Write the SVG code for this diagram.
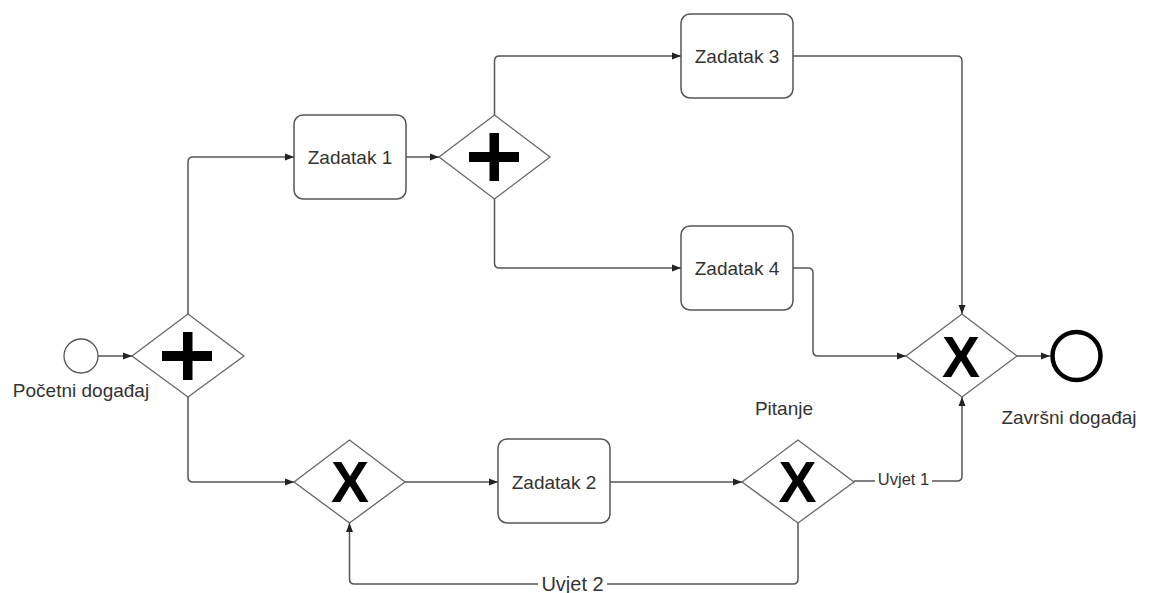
<svg xmlns="http://www.w3.org/2000/svg" width="1149" height="593" viewBox="0 0 1149 593">
<defs>
<style>
text{font-family:"Liberation Sans",Arial,sans-serif;fill:#333}
.task{fill:#fff;stroke:#555;stroke-width:1.5}
.gw{fill:#fff;stroke:#666;stroke-width:1.3}
.bar{fill:#000}
.xg{font-weight:bold;font-size:57px;fill:#000;text-anchor:middle}
.lbl{font-size:19px;text-anchor:middle}
.flow{fill:none;stroke:#555;stroke-width:1.5}
</style>
<marker id="arr" markerWidth="10" markerHeight="8" refX="9" refY="4" orient="auto" markerUnits="userSpaceOnUse">
<path d="M0,0.5 L9,4 L0,7.5 Z" fill="#222"/>
</marker>
</defs>
<rect width="1149" height="593" fill="#fff"/>

<g id="connectors">
<path class="flow" marker-end="url(#arr)" d="M98,356 H132"/>
<path class="flow" marker-end="url(#arr)" d="M188,314 V162 Q188,157 193,157 H294"/>
<path class="flow" marker-end="url(#arr)" d="M406,157 H439"/>
<path class="flow" marker-end="url(#arr)" d="M494.5,115 V61 Q494.5,56 499.5,56 H681"/>
<path class="flow" marker-end="url(#arr)" d="M494.5,199 V263 Q494.5,268 499.5,268 H681"/>
<path class="flow" marker-end="url(#arr)" d="M793,56 H957 Q962,56 962,61 V314"/>
<path class="flow" marker-end="url(#arr)" d="M793,268 H808 Q813,268 813,273 V351 Q813,356 818,356 H906"/>
<path class="flow" marker-end="url(#arr)" d="M1017,356 H1050"/>
<path class="flow" marker-end="url(#arr)" d="M188,397 V477 Q188,482 193,482 H294"/>
<path class="flow" marker-end="url(#arr)" d="M405,482 H498"/>
<path class="flow" marker-end="url(#arr)" d="M610,482 H742"/>
<path class="flow" marker-end="url(#arr)" d="M854,481 H957 Q962,481 962,476 V397"/>
<path class="flow" marker-end="url(#arr)" d="M798,523 V579 Q798,584 793,584 H354.5 Q349.5,584 349.5,579 V523"/>
<rect x="875" y="470" width="57" height="20" fill="#fff"/>
<text x="903.5" y="485" font-size="16.5" text-anchor="middle">Uvjet 1</text>
<rect x="538" y="574" width="69" height="19" fill="#fff"/>
<text x="572.5" y="591" font-size="20" text-anchor="middle">Uvjet 2</text>
</g>

<g id="start">
<circle cx="81" cy="356" r="17" fill="#fff" stroke="#555" stroke-width="1.3"/>
<text class="lbl" x="81" y="397">Početni događaj</text>
</g>

<g id="gw-split">
<polygon class="gw" points="132,356 188,314 244,356 188,397"/>
<rect class="bar" x="162" y="351" width="50" height="10"/>
<rect class="bar" x="183" y="332" width="9.5" height="48"/>
</g>

<g id="task1">
<rect class="task" x="294" y="115" width="112" height="84" rx="9"/>
<text class="lbl" x="350" y="164">Zadatak 1</text>
</g>

<g id="gw-split2">
<polygon class="gw" points="439,157 494.5,115 550,157 494.5,199"/>
<rect class="bar" x="469" y="152" width="50" height="10"/>
<rect class="bar" x="489.5" y="133" width="9.5" height="48"/>
</g>

<g id="task3">
<rect class="task" x="681" y="14" width="112" height="84" rx="9"/>
<text class="lbl" x="737" y="63">Zadatak 3</text>
</g>

<g id="task4">
<rect class="task" x="681" y="226" width="112" height="84" rx="9"/>
<text class="lbl" x="737" y="275">Zadatak 4</text>
</g>

<g id="gw-merge">
<polygon class="gw" points="906,356 962,314 1017,356 962,397"/>
<text class="xg" x="961" y="377">X</text>
</g>

<g id="end">
<circle cx="1076.5" cy="356" r="24" fill="#fff" stroke="#000" stroke-width="4.5"/>
<text class="lbl" x="1069" y="424">Završni događaj</text>
</g>

<g id="gw-loop">
<polygon class="gw" points="294,482 349.5,440 405,482 349.5,523"/>
<text class="xg" x="350" y="502">X</text>
</g>

<g id="task2">
<rect class="task" x="498" y="439" width="112" height="84" rx="9"/>
<text class="lbl" x="554" y="489">Zadatak 2</text>
</g>

<g id="gw-question">
<polygon class="gw" points="742,482 798,440 854,482 798,523"/>
<text class="xg" x="797.5" y="502">X</text>
<text class="lbl" x="784" y="415">Pitanje</text>
</g>
</svg>
